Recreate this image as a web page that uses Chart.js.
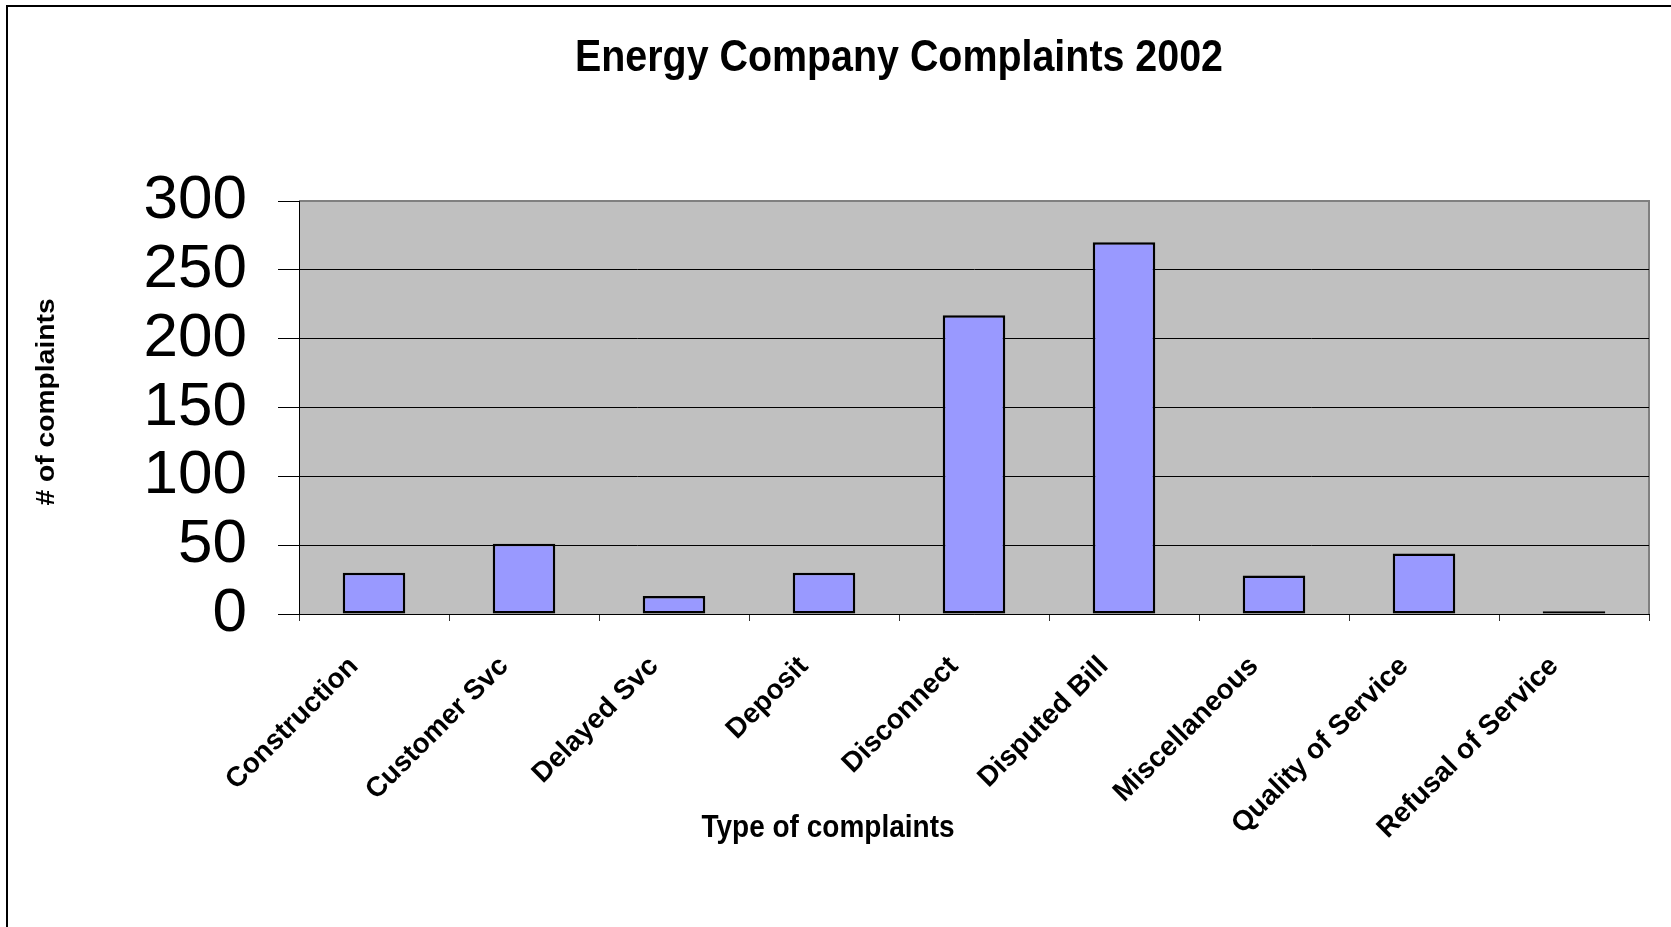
<!DOCTYPE html>
<html><head><meta charset="utf-8">
<script src="https://cdn.jsdelivr.net/npm/chart.js@4.4.1/dist/chart.umd.min.js"></script>
<style>html,body{margin:0;padding:0;background:#fff;overflow:hidden}canvas{display:block}</style>
</head><body>
<canvas id="c" width="1671" height="927"></canvas>
<script>
const categories = ['Construction','Customer Svc','Delayed Svc','Deposit','Disconnect','Disputed Bill','Miscellaneous','Quality of Service','Refusal of Service'];
const complaints = [30, 51, 13, 30, 217, 270, 28, 44, 2];
const yTicks = [0, 50, 100, 150, 200, 250, 300];
const chartTitle = 'Energy Company Complaints 2002';
const xTitle = 'Type of complaints';
const yTitle = '# of complaints';
const FONT = "'Liberation Sans', Arial, sans-serif";

const decor = {
  id: 'decor',
  beforeDraw(chart) {
    const {ctx, chartArea: a} = chart;
    ctx.save();
    ctx.fillStyle = '#fff';
    ctx.fillRect(0, 0, chart.width, chart.height);
    ctx.fillStyle = '#C0C0C0';
    ctx.fillRect(a.left, a.top, a.right - a.left, a.bottom - a.top);
    ctx.strokeStyle = '#808080';
    ctx.lineWidth = 2;
    ctx.beginPath();
    ctx.moveTo(a.left, a.top); ctx.lineTo(a.right, a.top); ctx.lineTo(a.right, a.bottom);
    ctx.stroke();
    ctx.strokeStyle = '#000';
    ctx.lineWidth = 2;
    ctx.beginPath();
    ctx.moveTo(7, chart.height); ctx.lineTo(7, 6); ctx.lineTo(chart.width, 6);
    ctx.stroke();
    ctx.restore();
  },
  afterDraw(chart) {
    const ctx = chart.ctx;
    ctx.save();
    ctx.fillStyle = '#000';
    ctx.font = 'bold 39.4px ' + FONT;
    ctx.textAlign = 'center';
    ctx.textBaseline = 'alphabetic';
    ctx.save(); ctx.translate(899, 71); ctx.scale(1, 1.13); ctx.fillText(chartTitle, 0, 0); ctx.restore();
    ctx.font = 'bold 28px ' + FONT;
    ctx.save(); ctx.translate(828, 837); ctx.scale(1, 1.1); ctx.fillText(xTitle, 0, 0); ctx.restore();
    ctx.font = 'bold 25px ' + FONT;
    ctx.textBaseline = 'middle';
    ctx.save(); ctx.translate(47, 402); ctx.rotate(-Math.PI / 2); ctx.scale(1.13, 1); ctx.fillText(yTitle, 0, 0); ctx.restore();
    ctx.restore();
  }
};

new Chart(document.getElementById('c'), {
  type: 'bar',
  data: {
    labels: categories,
    datasets: [{
      label: '# of complaints',
      data: complaints,
      backgroundColor: '#9999FF',
      borderColor: '#000',
      borderWidth: 2.5,
      borderSkipped: false,
      barPercentage: 0.417,
      categoryPercentage: 1
    }]
  },
  options: {
    responsive: false,
    animation: false,
    devicePixelRatio: 1,
    layout: {padding: {top: 201, right: 22, left: 0, bottom: 0}},
    plugins: {legend: {display: false}, title: {display: false}, tooltip: {enabled: false}},
    scales: {
      x: {
        afterFit(s) { s.height = 313; },
        grid: {display: true, drawOnChartArea: false, drawTicks: true, tickLength: 7, color: '#333', offset: true},
        border: {display: true, color: '#000', width: 1},
        ticks: {
          autoSkip: false, minRotation: 45, maxRotation: 45, labelOffset: -20, padding: 29,
          color: '#000', font: {family: FONT, size: 28, weight: 'bold'}
        }
      },
      y: {
        min: 0, max: 300,
        afterFit(s) { s.width = 299; },
        afterBuildTicks(s) { s.ticks = yTicks.map(v => ({value: v})); },
        grid: {
          color: c => (c.tick && c.tick.value === 300) ? '#808080' : '#000',
          tickColor: '#000', lineWidth: 1, tickLength: 21, drawTicks: true
        },
        border: {display: true, color: '#000', width: 1},
        ticks: {autoSkip: false, padding: 31, color: '#000', font: {family: FONT, size: 62, lineHeight: 1}}
      }
    }
  },
  plugins: [decor]
});
</script>
</body></html>
